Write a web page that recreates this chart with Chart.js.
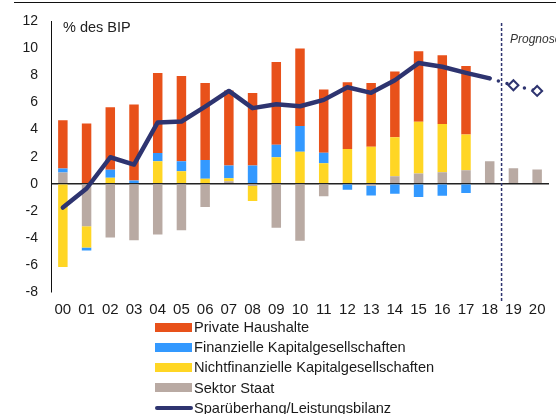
<!DOCTYPE html>
<html><head><meta charset="utf-8">
<script src="https://cdn.jsdelivr.net/npm/chart.js@4"></script>
<style>
html,body{margin:0;padding:0;background:#fff;}
body{width:556px;height:414px;position:relative;overflow:hidden;font-family:"Liberation Sans",Arial,sans-serif;}
#top{position:absolute;left:14px;top:2px;width:542px;height:0;border-top:1.5px solid #111;}
#wrap{position:absolute;left:0;top:0;width:556px;height:320px;}
#unit{position:absolute;left:63px;top:19px;font-size:14.5px;color:#222;white-space:nowrap;}
#prog{position:absolute;left:510px;top:32px;font-size:12px;font-style:italic;color:#333;white-space:nowrap;}
#legend{position:absolute;left:155px;top:317px;}
.li{height:20.2px;display:flex;align-items:center;font-size:14.6px;color:#1a1a1a;white-space:nowrap;}
.sw{width:37px;height:9px;margin-right:2px;flex:none;}
.ln{width:38px;height:4px;border-radius:2px;margin-right:1px;flex:none;}
</style>
</head><body>
<div id="top"></div>
<div id="wrap"><canvas id="c" width="556" height="320"></canvas></div>
<div id="unit">% des BIP</div>
<div id="prog">Prognose</div>
<div id="legend"></div>
<script>
const years = ['00','01','02','03','04','05','06','07','08','09','10','11','12','13','14','15','16','17','18','19','20'];
const privateHaushalte = [3.58,4.46,4.63,5.6,5.9,6.3,5.69,5.55,5.36,6.11,5.74,4.66,4.93,4.71,4.87,5.22,5.09,5.05,null,null,null];
const finanzielleKG = [0.29,-0.22,0.59,0.2,0.62,0.73,1.39,0.94,1.35,0.93,1.89,0.79,-0.44,-0.71,-0.74,-0.98,-0.88,-0.69,null,null,null];
const nichtfinanzielleKG = [-6.15,-1.57,0.44,0.05,1.66,0.93,0.37,0.22,-1.1,1.96,2.37,1.51,2.57,2.74,2.87,3.82,3.56,2.65,null,null,null];
const sektorStaat = [0.83,-3.14,-3.97,-4.17,-3.75,-3.43,-1.72,0.19,-0.17,-3.26,-4.22,-0.93,null,-0.15,0.56,0.76,0.85,1.0,1.66,1.15,1.05];
const leistungsbilanz = [-1.76,-0.35,1.96,1.42,4.53,4.6,5.7,6.86,5.59,5.88,5.73,6.2,7.13,6.72,7.65,8.92,8.65,8.2,7.79,null,null];
const prognose = [null,null,null,null,null,null,null,null,null,null,null,null,null,null,null,null,null,null,7.79,7.28,6.86];
const yTicks = [-8,-6,-4,-2,0,2,4,6,8,10,12];

const NAVY = '#2E3470';
Chart.defaults.font.family = '"Liberation Sans", Arial, sans-serif';
Chart.defaults.color = '#1a1a1a';

const barCommon = {type:'bar', stack:'bars', barPercentage:0.4, categoryPercentage:1.0, borderWidth:0};

const forecastLine = {
  id:'forecastLine',
  afterDatasetsDraw(chart){
    const x = chart.scales.x;
    const px = (x.getPixelForValue(18) + x.getPixelForValue(19)) / 2;
    const ctx = chart.ctx;
    ctx.save();
    ctx.strokeStyle = NAVY;
    ctx.lineWidth = 1.5;
    ctx.setLineDash([3,2]);
    ctx.beginPath();
    ctx.moveTo(px, 23);
    ctx.lineTo(px, 302);
    ctx.stroke();
    ctx.restore();
  }
};

const chart = new Chart(document.getElementById('c'), {
  data: {
    labels: years,
    datasets: [
      {type:'line', label:'Sparüberhang/Leistungsbilanz', legendRank:4, stack:'l1', data:leistungsbilanz,
       borderColor:NAVY, borderWidth:4.5, pointRadius:0, tension:0, borderCapStyle:'round', borderJoinStyle:'round'},
      {type:'line', label:'Prognose', stack:'l2', data:prognose,
       borderColor:NAVY, borderWidth:3.5, borderDash:[0,9], borderCapStyle:'round', tension:0,
       pointStyle:'rectRot', pointRadius:[0,0,0,0,0,0,0,0,0,0,0,0,0,0,0,0,0,0,0,5,5],
       pointBackgroundColor:'#fff', pointBorderColor:NAVY, pointBorderWidth:2},
      Object.assign({label:'Sektor Staat', legendRank:3, data:sektorStaat, backgroundColor:'#B9AAA3'}, barCommon),
      Object.assign({label:'Nichtfinanzielle Kapitalgesellschaften', legendRank:2, data:nichtfinanzielleKG, backgroundColor:'#FFD624'}, barCommon),
      Object.assign({label:'Finanzielle Kapitalgesellschaften', legendRank:1, data:finanzielleKG, backgroundColor:'#3399FF'}, barCommon),
      Object.assign({label:'Private Haushalte', legendRank:0, data:privateHaushalte, backgroundColor:'#E8511A'}, barCommon)
    ]
  },
  options: {
    responsive:false, animation:false, devicePixelRatio:1,
    layout:{padding:{top:20,right:6,bottom:0,left:0}},
    plugins:{legend:{display:false}, tooltip:{enabled:false}},
    scales:{
      x:{stacked:true, grid:{display:false, drawTicks:false}, border:{display:false},
         ticks:{padding:9, font:{size:15}, color:'#1a1a1a', maxRotation:0, autoSkip:false},
         afterFit(s){ s.height = 28; }},
      y:{stacked:true, min:-8, max:12,
         afterBuildTicks(s){ s.ticks = yTicks.map(v=>({value:v})); },
         grid:{drawTicks:false, lineWidth:1.5, color:c => (c.tick && c.tick.value === 0) ? '#222' : 'rgba(0,0,0,0)'},
         border:{display:true, color:'#111', width:1},
         ticks:{padding:13, font:{size:14}, color:'#1a1a1a'},
         afterFit(s){ s.width = 51; }}
    }
  },
  plugins:[forecastLine]
});

const legendEl = document.getElementById('legend');
chart.data.datasets.filter(d => d.legendRank !== undefined)
  .sort((a,b) => a.legendRank - b.legendRank)
  .forEach(d => {
    const row = document.createElement('div');
    row.className = 'li';
    const sw = document.createElement('div');
    if (d.type === 'line') { sw.className = 'ln'; sw.style.background = d.borderColor; }
    else { sw.className = 'sw'; sw.style.background = d.backgroundColor; }
    row.appendChild(sw);
    const t = document.createElement('span');
    t.textContent = d.label;
    row.appendChild(t);
    legendEl.appendChild(row);
  });
</script>
</body></html>
